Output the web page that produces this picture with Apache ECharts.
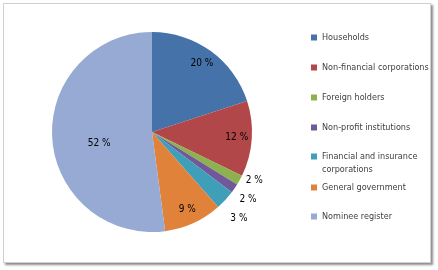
<!DOCTYPE html>
<html>
<head>
<meta charset="utf-8">
<script src="https://cdn.jsdelivr.net/npm/echarts@6/dist/echarts.min.js"></script>
<style>
  html, body { margin: 0; padding: 0; background: #fff; }
  #frame {
    position: absolute; left: 3px; top: 3px; width: 426px; height: 258px;
    border: 1px solid #d0d0d0; background: #fff;
    box-shadow: 2px 2px 2px rgba(0,0,0,0.45);
  }
  #chart { width: 426px; height: 258px; }
</style>
</head>
<body>
<div id="frame"><div id="chart"></div></div>
<script>
const categories = [
  'Households',
  'Non-financial corporations',
  'Foreign holders',
  'Non-profit institutions',
  'Financial and insurance\ncorporations',
  'General government',
  'Nominee register'
];
const shares = [20.0, 12.2, 1.6, 1.5, 3.2, 9.4, 52.1];
const sliceColors = ['#4672aa', '#b2474a', '#8db14e', '#71589a', '#3f9eb8', '#e1823a', '#96aad4'];
// where each percentage label sits: on the outer ring, at the middle, or outside
const labelPlace = ['ring', 'ring', 'out', 'out', 'out', 'ring', 'mid'];

const FONT = '"Liberation Sans Narrow", "DejaVu Sans Condensed", sans-serif';
const pct = p => Math.round(p.value) + ' %';
const CENTER = [148, 128];

const chart = echarts.init(document.getElementById('chart'));

function pieData(show) {
  return categories.map((name, i) => ({
    name,
    value: shares[i],
    label: { show: show(labelPlace[i]) }
  }));
}

const legendText = { color: '#404040', fontSize: 9, fontFamily: FONT };
const baseLegend = {
  orient: 'vertical',
  left: 302,
  itemWidth: 6,
  itemHeight: 6,
  icon: 'rect',
  itemGap: 21,
  selectedMode: false,
  textStyle: legendText
};

chart.setOption({
  animation: false,
  color: sliceColors,
  legend: [
    Object.assign({}, baseLegend, { top: 24, data: categories.slice(0, 4) }),
    Object.assign({}, baseLegend, {
      top: 128,
      data: categories.slice(4, 5),
      // blank first line so the marker lines up with the first text line
      formatter: name => '\n' + name,
      textStyle: Object.assign({}, legendText, { lineHeight: 13 })
    }),
    Object.assign({}, baseLegend, { top: 174, itemGap: 20, data: categories.slice(5) })
  ],
  series: [
    {
      type: 'pie',
      center: CENTER,
      radius: [0, 100],
      startAngle: 90,
      clockwise: true,
      silent: true,
      avoidLabelOverlap: true,
      itemStyle: { borderWidth: 0 },
      label: {
        position: 'outside',
        formatter: pct,
        color: '#000',
        fontSize: 10,
        fontFamily: FONT,
        lineHeight: 17
      },
      labelLine: { show: false, length: 0, length2: 0 },
      data: pieData(p => p === 'out')
    },
    {
      type: 'pie',
      center: CENTER,
      radius: [0, 100],
      startAngle: 90,
      silent: true,
      legendHoverLink: false,
      itemStyle: { color: 'transparent', borderWidth: 0 },
      label: {
        position: 'inside',
        formatter: p => '\n' + pct(p),
        color: '#000', fontSize: 10, fontFamily: FONT, lineHeight: 16
      },
      labelLine: { show: false },
      data: pieData(p => p === 'mid')
    },
    {
      type: 'pie',
      center: CENTER,
      radius: [64, 100],
      startAngle: 90,
      silent: true,
      legendHoverLink: false,
      itemStyle: { color: 'transparent', borderWidth: 0 },
      label: { position: 'inside', formatter: pct, color: '#000', fontSize: 10, fontFamily: FONT },
      labelLine: { show: false },
      data: pieData(p => p === 'ring')
    }
  ]
});
</script>
</body>
</html>
